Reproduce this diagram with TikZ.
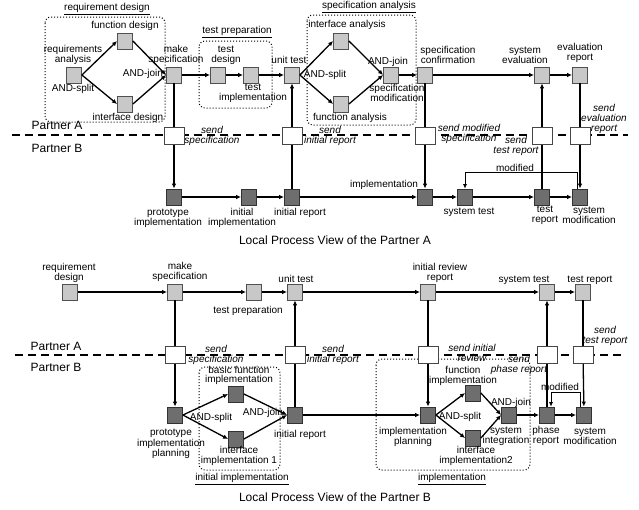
\documentclass[tikz,border=0pt]{standalone}
\usepackage{fontspec}
\setmainfont{Liberation Sans}
\usetikzlibrary{arrows.meta}
\definecolor{lightfill}{RGB}{200,200,200}
\definecolor{lightedge}{RGB}{80,80,80}
\definecolor{darkfill}{RGB}{110,110,110}
\definecolor{darkedge}{RGB}{50,50,50}
\definecolor{sendedge}{RGB}{70,70,70}
\begin{document}
\begin{tikzpicture}[x=1pt,y=-1pt,
  actA/.style={draw=lightedge,fill=lightfill,line width=0.8pt,minimum width=15pt,minimum height=16pt,inner sep=0pt},
  actB/.style={draw=darkedge,fill=darkfill,line width=0.8pt,minimum width=15pt,minimum height=16pt,inner sep=0pt},
  sendbox/.style={draw=sendedge,fill=white,line width=0.9pt,minimum width=20pt,minimum height=17pt,inner sep=0pt},
  lbl/.style={font=\fontsize{10}{10}\selectfont,align=center,inner sep=0pt},
  msg/.style={font=\fontsize{10}{10}\selectfont\itshape,align=center,inner sep=0pt},
  big/.style={font=\fontsize{12}{12}\selectfont,inner sep=0pt},
  flow/.style={line width=1.3pt,-{Latex[length=5pt,width=4.5pt]}},
  link/.style={line width=1.3pt},
  backflow/.style={line width=0.7pt,-{Latex[length=4.5pt,width=4pt]}},
  grp/.style={draw,dotted,line width=1pt,rounded corners=6pt},
  lane/.style={line width=2.2pt,dash pattern=on 8pt off 5pt}]
\useasboundingbox (0,0) rectangle (639,509);
\fill[white] (0,0) rectangle (639,509);

% ---------------- upper view: Partner A ----------------
\draw[lane] (12,135) -- (628,135);
\draw[grp] (45,17) rectangle (165,122);
\draw[grp] (199,41) rectangle (272,108);
\draw[grp] (307,15) rectangle (416,125);

\node[actA] (reqan) at (74,75) {};
\node[actA] (fdes) at (125,41) {};
\node[actA] (ides) at (125,104) {};
\node[actA] (mksp) at (174,75) {};
\node[actA] (tdes) at (218,75) {};
\node[actA] (timp) at (251,75) {};
\node[actA] (utest) at (292,75) {};
\node[actA] (ianal) at (341,41) {};
\node[actA] (fanal) at (341,104) {};
\node[actA] (spmod) at (391,75) {};
\node[actA] (spconf) at (425,75) {};
\node[actA] (syseval) at (542,75) {};
\node[actA] (evrep) at (580,75) {};

\node[sendbox] (s1) at (174,136) {};
\node[sendbox] (s2) at (292,136) {};
\node[sendbox] (s3) at (425,136) {};
\node[sendbox] (s4) at (542,136) {};
\node[sendbox] (s5) at (580,136) {};

\node[actB] (proto) at (174,197) {};
\node[actB] (iimp) at (249,197) {};
\node[actB] (irep) at (292,197) {};
\node[actB] (impl) at (425,197) {};
\node[actB] (systest) at (465,197) {};
\node[actB] (trep) at (542,197) {};
\node[actB] (sysmod) at (580,197) {};

\draw[flow] (reqan.east) -- (fdes.west);
\draw[flow] (reqan.east) -- (ides.west);
\draw[flow] (fdes.east) -- (mksp.west);
\draw[flow] (ides.east) -- (mksp.west);
\draw[flow] (mksp) -- (tdes);
\draw[flow] (tdes) -- (timp);
\draw[flow] (timp) -- (utest);
\draw[flow] (utest.east) -- (ianal.west);
\draw[flow] (utest.east) -- (fanal.west);
\draw[flow] (ianal.east) -- (spmod.west);
\draw[flow] (fanal.east) -- (spmod.west);
\draw[flow] (spmod) -- (spconf);
\draw[flow] (spconf) -- (syseval);
\draw[flow] (syseval) -- (evrep);

\draw[link] (mksp) -- (s1);
\draw[flow] (s1) -- (proto);
\draw[link] (irep) -- (s2);
\draw[flow] (s2) -- (utest);
\draw[link] (spconf) -- (s3);
\draw[flow] (s3) -- (impl);
\draw[link] (trep) -- (s4);
\draw[flow] (s4) -- (syseval);
\draw[link] (evrep) -- (s5);
\draw[flow] (s5) -- (sysmod);

\draw[flow] (proto) -- (iimp);
\draw[flow] (iimp) -- (irep);
\draw[flow] (irep) -- (impl);
\draw[flow] (impl) -- (systest);
\draw[flow] (systest) -- (trep);
\draw[flow] (trep) -- (sysmod);
\draw[backflow] ([xshift=-3pt]sysmod.north) -- ++(0,-16) -| (systest.north);

\node[lbl] (tRD) at (107,9) {\underline{requirement design}};
\node[lbl] (tRA) at (73,55) {requirements\\analysis};
\node[lbl] (tS1) at (73,89) {AND-split};
\node[lbl] (tFD) at (125,26) {function design};
\node[lbl] (tID) at (128,118) {interface design};
\node[lbl] (tJ1) at (143,74) {AND-join};
\node[lbl] (tMS) at (176,55) {make\\specification};
\node[lbl] (tTP) at (237,32) {\underline{test preparation}};
\node[lbl] (tTD) at (226,55) {test\\design};
\node[lbl] (tTI) at (253,93) {test\\implementation};
\node[lbl] (tUT) at (289,60) {unit test};
\node[lbl] (tSA) at (369,7) {\underline{specification analysis}};
\node[lbl] (tIA) at (347,25) {interface analysis};
\node[lbl] (tS2) at (325,75) {AND-split};
\node[lbl] (tJ2) at (388,62) {AND-join};
\node[lbl] (tSM) at (397,93) {specification\\modification};
\node[lbl] (tFA) at (350,118) {function analysis};
\node[lbl] (tSC) at (448,55) {specification\\confirmation};
\node[lbl] (tSE) at (525,55) {system\\evaluation};
\node[lbl] (tER) at (580,53) {evaluation\\report};

\node[msg] (mS1) at (212,136) {send\\specification};
\node[msg] (mS2) at (330,136) {send\\initial report};
\node[msg] (mS3) at (469,134) {send modified\\specification};
\node[msg] (mS4) at (516,146) {send\\test report};
\node[msg] (mS5) at (604,119) {send\\evaluation\\report};

\node[big] (pA1) at (57,125) {Partner A};
\node[big] (pB1) at (57,148) {Partner B};

\node[lbl] (tPI) at (168,218) {prototype\\implementation};
\node[lbl] (tII) at (242,218) {initial\\implementation};
\node[lbl] (tIR) at (300,213) {initial report};
\node[lbl] (tIM) at (384,185) {implementation};
\node[lbl] (tMD) at (515,168) {modified};
\node[lbl] (tST) at (469,212) {system test};
\node[lbl] (tTR) at (545,215) {test\\report};
\node[lbl] (tSYM) at (589,215) {system\\modification};
\node[big] (cap1) at (335,240) {Local Process View of the Partner A};

% ---------------- lower view: Partner B ----------------
\draw[lane] (15,355) -- (622,355);
\draw[grp] (199,367) rectangle (280,470);
\draw[grp] (376,359) rectangle (530,470);

\node[actA] (reqd) at (70,292) {};
\node[actA] (mksp2) at (175,292) {};
\node[actA] (tprep) at (254,292) {};
\node[actA] (utest2) at (295,292) {};
\node[actA] (irr) at (428,292) {};
\node[actA] (systest2) at (547,292) {};
\node[actA] (trep2) at (583,292) {};

\node[sendbox] (b1) at (175,355) {};
\node[sendbox] (b2) at (295,355) {};
\node[sendbox] (b3) at (428,355) {};
\node[sendbox] (b4) at (547,355) {};
\node[sendbox] (b5) at (583,355) {};

\node[actB] (ppl) at (175,415) {};
\node[actB] (bfi) at (236,394) {};
\node[actB] (ii1) at (236,439) {};
\node[actB] (irep2) at (295,415) {};
\node[actB] (iplan) at (428,415) {};
\node[actB] (fimp) at (473,393) {};
\node[actB] (ii2) at (473,438) {};
\node[actB] (sint) at (509,415) {};
\node[actB] (phrep) at (547,415) {};
\node[actB] (sysmod2) at (584,415) {};

\draw[flow] (reqd) -- (mksp2);
\draw[flow] (mksp2) -- (tprep);
\draw[flow] (tprep) -- (utest2);
\draw[flow] (utest2) -- (irr);
\draw[flow] (irr) -- (systest2);
\draw[flow] (systest2) -- (trep2);

\draw[link] (mksp2) -- (b1);
\draw[flow] (b1) -- (ppl);
\draw[link] (irep2) -- (b2);
\draw[flow] (b2) -- (utest2);
\draw[link] (irr) -- (b3);
\draw[flow] (b3) -- (iplan);
\draw[link] (phrep) -- (b4);
\draw[flow] (b4) -- (systest2);
\draw[link] (trep2) -- (b5);
\draw[flow] (b5) -- (sysmod2);

\draw[flow] (ppl.east) -- (bfi.west);
\draw[flow] (ppl.east) -- (ii1.west);
\draw[flow] (bfi.east) -- (irep2.west);
\draw[flow] (ii1.east) -- (irep2.west);
\draw[flow] (irep2) -- (iplan);
\draw[flow] (iplan.east) -- (fimp.west);
\draw[flow] (iplan.east) -- (ii2.west);
\draw[flow] (fimp.east) -- (sint.west);
\draw[flow] (ii2.east) -- (sint.west);
\draw[flow] (sint) -- (phrep);
\draw[flow] (phrep) -- (sysmod2);
\draw[backflow] ([xshift=-4pt]sysmod2.north) -- ++(0,-14) -| ([xshift=4pt]phrep.north);

\node[lbl] (uRD) at (69,273) {requirement\\design};
\node[lbl] (uMS) at (180,272) {make\\specification};
\node[lbl] (uTP) at (248,311) {test preparation};
\node[lbl] (uUT) at (296,279) {unit test};
\node[lbl] (uIRR) at (440,273) {initial review\\report};
\node[lbl] (uST) at (524,280) {system test};
\node[lbl] (uTR) at (590,280) {test report};

\node[big] (pA2) at (56,346) {Partner A};
\node[big] (pB2) at (56,367) {Partner B};

\node[msg] (n1) at (216,355) {send\\specification};
\node[msg] (n2) at (333,355) {send\\initial report};
\node[msg] (n3) at (472,353) {send initial\\review};
\node[msg] (n4) at (519,365) {send\\phase report};
\node[msg] (n5) at (605,336) {send\\test report};

\node[lbl,font=\fontsize{10}{9.5}\selectfont] (uBF) at (239,375.5) {basic function\\implementation};
\node[lbl,font=\fontsize{10}{9.5}\selectfont] (uFI) at (463,376) {function\\implementation};
\node[lbl] (uS1) at (211,418) {AND-split};
\node[lbl] (uJ1) at (263,413) {AND-join};
\node[lbl,font=\fontsize{10}{9}\selectfont] (uPP) at (171,444) {prototype\\implementation\\planning};
\node[lbl] (uI1) at (239,456) {interface\\implementation 1};
\node[lbl] (uIR) at (300,435) {initial report};
\node[lbl] (uIIm) at (242,479) {\underline{initial implementation}};
\node[lbl] (uIP) at (413,437) {implementation\\planning};
\node[lbl] (uS2) at (460,417) {AND-split};
\node[lbl] (uJ2) at (511,403) {AND-join};
\node[lbl] (uSI) at (506,436) {system\\integration};
\node[lbl] (uI2) at (476,456) {interface\\implementation2};
\node[lbl] (uIm) at (452,479) {\underline{implementation}};
\node[lbl] (uPR) at (546,436) {phase\\report};
\node[lbl] (uSM) at (590,436) {system\\modification};
\node[lbl] (uMD) at (560,387) {modified};
\node[big] (cap2) at (335,497) {Local Process View of the Partner B};
\end{tikzpicture}
\end{document}
